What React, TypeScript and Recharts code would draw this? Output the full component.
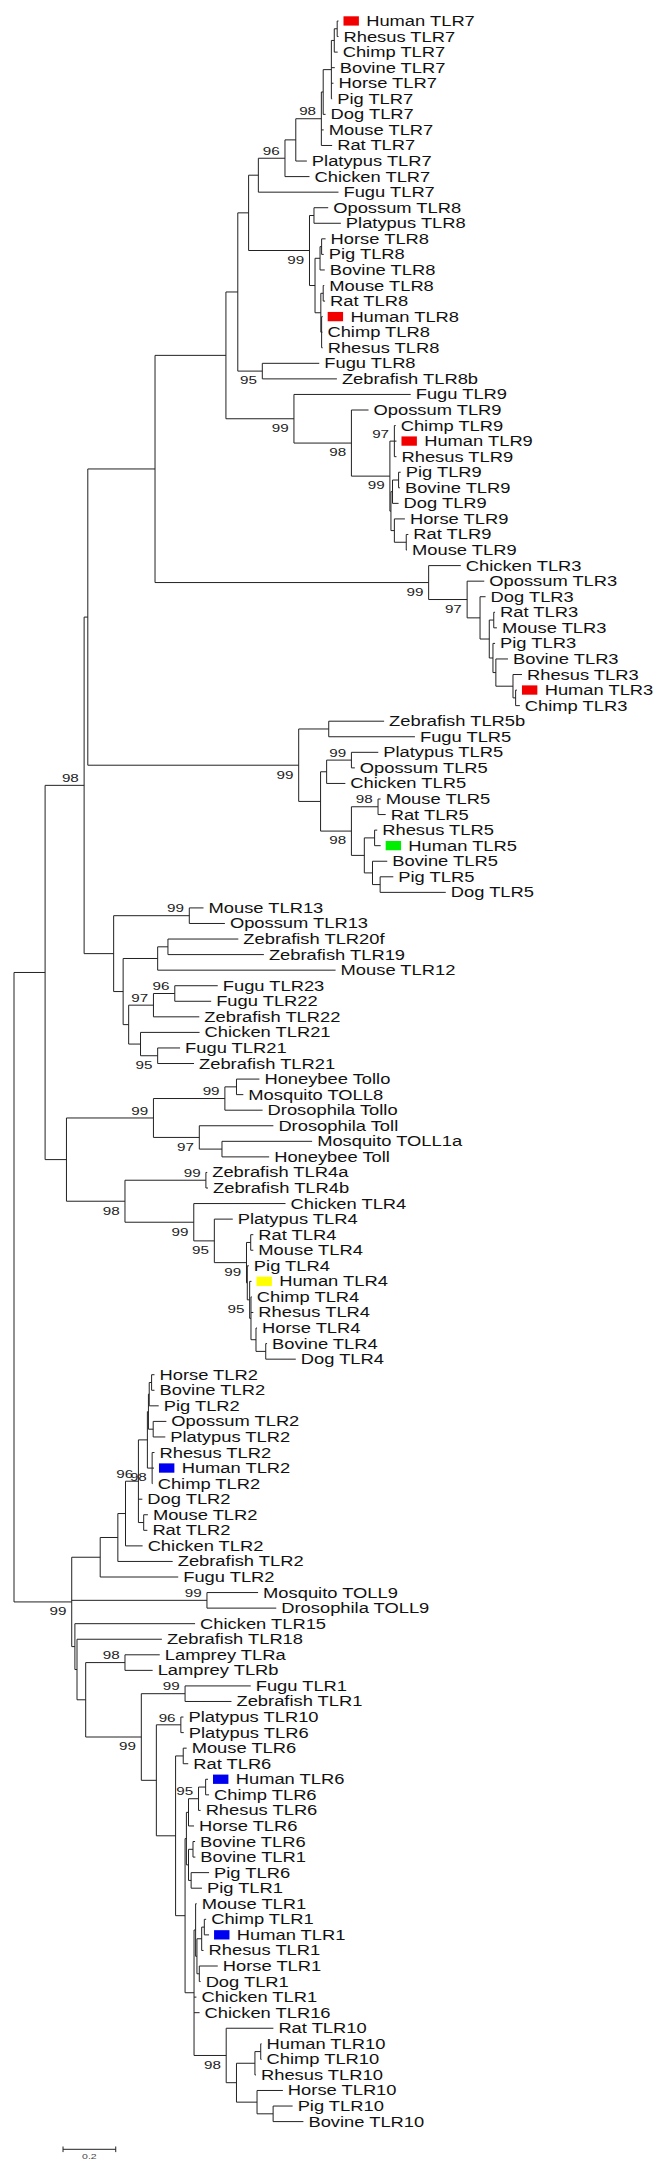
import React, { useMemo } from 'react'
import {
    ScatterChart,
    Scatter,
    XAxis,
    YAxis,
    ReferenceLine,
} from 'recharts'

// Tree nodes: d = distance from the root (substitutions/site), kids = children, boot = bootstrap
interface TreeNode {
    d: number
    name?: string
    mark?: 'red' | 'green' | 'yellow' | 'blue'
    kids?: TreeNode[]
    boot?: number
}

const L = (d: number, name: string, mark?: TreeNode['mark']): TreeNode => ({ d, name, mark })
const N = (d: number, kids: TreeNode[], boot?: number): TreeNode => ({ d, kids, boot })

// --- TLR7 / TLR8 / TLR9 ---
const tlr7Mammals = N(1.166, [
    N(1.173, [
        N(1.204, [
            N(1.215, [
                N(1.226, [L(1.231, 'Human TLR7', 'red'), L(1.231, 'Rhesus TLR7')]),
                L(1.228, 'Chimp TLR7'),
            ]),
            L(1.217, 'Bovine TLR7'),
            L(1.212, 'Horse TLR7'),
            L(1.207, 'Pig TLR7'),
        ]),
        L(1.182, 'Dog TLR7'),
    ]),
    L(1.175, 'Mouse TLR7'),
    L(1.207, 'Rat TLR7'),
], 98)

const tlr7 = N(0.927, [
    N(1.028, [
        N(1.069, [tlr7Mammals, L(1.111, 'Platypus TLR7')]),
        L(1.121, 'Chicken TLR7'),
    ], 96),
    L(1.231, 'Fugu TLR7'),
])

const tlr8 = N(1.121, [
    N(1.138, [L(1.192, 'Opossum TLR8'), L(1.240, 'Platypus TLR8')]),
    N(1.142, [
        N(1.161, [
            N(1.167, [L(1.182, 'Horse TLR8'), L(1.175, 'Pig TLR8')]),
            L(1.179, 'Bovine TLR8'),
        ]),
        N(1.164, [
            N(1.173, [L(1.177, 'Mouse TLR8'), L(1.180, 'Rat TLR8')]),
            N(1.167, [L(1.171, 'Human TLR8', 'red'), L(1.170, 'Chimp TLR8'), L(1.171, 'Rhesus TLR8')]),
        ]),
    ]),
], 99)

const fishTlr8 = N(0.942, [L(1.158, 'Fugu TLR8'), L(1.225, 'Zebrafish TLR8b')], 95)

const tlr9 = N(1.062, [
    L(1.505, 'Fugu TLR9'),
    N(1.280, [
        L(1.345, 'Opossum TLR9'),
        N(1.426, [
            N(1.443, [L(1.448, 'Chimp TLR9'), L(1.451, 'Human TLR9', 'red'), L(1.451, 'Rhesus TLR9')], 97),
            N(1.430, [
                N(1.436, [
                    N(1.459, [L(1.467, 'Pig TLR9'), L(1.464, 'Bovine TLR9')]),
                    L(1.459, 'Dog TLR9'),
                ]),
                N(1.443, [
                    L(1.483, 'Horse TLR9'),
                    N(1.488, [L(1.496, 'Rat TLR9'), L(1.491, 'Mouse TLR9')]),
                ]),
            ]),
        ], 99),
    ], 98),
], 99)

// --- TLR3 ---
const tlr3 = N(1.573, [
    L(1.695, 'Chicken TLR3'),
    N(1.719, [
        L(1.784, 'Opossum TLR3'),
        N(1.768, [
            L(1.789, 'Dog TLR3'),
            N(1.803, [
                N(1.820, [L(1.825, 'Rat TLR3'), L(1.832, 'Mouse TLR3')]),
                N(1.817, [
                    L(1.825, 'Pig TLR3'),
                    N(1.828, [
                        L(1.874, 'Bovine TLR3'),
                        N(1.893, [
                            L(1.927, 'Rhesus TLR3'),
                            N(1.903, [L(1.908, 'Human TLR3', 'red'), L(1.919, 'Chimp TLR3')]),
                        ]),
                    ]),
                ]),
            ]),
        ]),
    ], 97),
], 99)

// --- TLR5 ---
const tlr5 = N(1.080, [
    N(1.194, [L(1.404, 'Zebrafish TLR5b'), L(1.521, 'Fugu TLR5')]),
    N(1.163, [
        N(1.186, [
            N(1.280, [L(1.382, 'Platypus TLR5'), L(1.293, 'Opossum TLR5')], 99),
            L(1.257, 'Chicken TLR5'),
        ]),
        N(1.280, [
            N(1.381, [L(1.391, 'Mouse TLR5'), L(1.410, 'Rat TLR5')], 98),
            N(1.329, [
                N(1.368, [L(1.378, 'Rhesus TLR5'), L(1.391, 'Human TLR5', 'green')]),
                N(1.360, [
                    L(1.416, 'Bovine TLR5'),
                    N(1.389, [L(1.439, 'Pig TLR5'), L(1.638, 'Dog TLR5')]),
                ]),
            ]),
        ], 98),
    ]),
], 99)

// --- TLR11 family (TLR12/13/19-23) ---
const tlr13Group = N(0.378, [
    N(0.665, [L(0.719, 'Mouse TLR13'), L(0.800, 'Opossum TLR13')], 99),
    N(0.414, [
        N(0.545, [
            N(0.584, [L(0.851, 'Zebrafish TLR20f'), L(0.948, 'Zebrafish TLR19')]),
            L(1.220, 'Mouse TLR12'),
        ]),
        N(0.435, [
            N(0.529, [
                N(0.610, [L(0.773, 'Fugu TLR23'), L(0.748, 'Fugu TLR22')], 96),
                L(0.703, 'Zebrafish TLR22'),
            ], 97),
            N(0.480, [
                L(0.704, 'Chicken TLR21'),
                N(0.545, [L(0.630, 'Fugu TLR21'), L(0.683, 'Zebrafish TLR21')], 95),
            ]),
        ]),
    ]),
])

// --- insect Tolls and TLR4 ---
const insectToll = N(0.529, [
    N(0.800, [
        N(0.844, [L(0.931, 'Honeybee Tollo'), L(0.870, 'Mosquito TOLL8')]),
        L(0.943, 'Drosophila Tollo'),
    ], 99),
    N(0.703, [
        L(0.984, 'Drosophila Toll'),
        N(0.789, [L(1.131, 'Mosquito TOLL1a'), L(0.968, 'Honeybee Toll')]),
    ], 97),
], 99)

const tlr4 = N(0.421, [
    N(0.728, [L(0.733, 'Zebrafish TLR4a'), L(0.736, 'Zebrafish TLR4b')], 99),
    N(0.682, [
        L(1.030, 'Chicken TLR4'),
        N(0.760, [
            L(0.830, 'Platypus TLR4'),
            N(0.882, [
                N(0.898, [L(0.908, 'Rat TLR4'), L(0.908, 'Mouse TLR4')]),
                N(0.885, [
                    L(0.891, 'Pig TLR4'),
                    N(0.894, [
                        L(0.901, 'Human TLR4', 'yellow'),
                        N(0.899, [
                            L(0.902, 'Chimp TLR4'),
                            L(0.908, 'Rhesus TLR4'),
                            N(0.918, [
                                L(0.922, 'Horse TLR4'),
                                N(0.955, [L(0.960, 'Bovine TLR4'), L(1.069, 'Dog TLR4')]),
                            ]),
                        ]),
                    ], 95),
                ]),
            ], 99),
        ], 95),
    ], 99),
], 98)

// --- TLR2 ---
const tlr2 = N(0.327, [
    N(0.394, [
        N(0.423, [
            N(0.472, [
                N(0.506, [
                    N(0.510, [
                        N(0.513, [
                            N(0.522, [L(0.533, 'Horse TLR2'), L(0.533, 'Bovine TLR2')]),
                            L(0.549, 'Pig TLR2'),
                        ]),
                        N(0.528, [L(0.578, 'Opossum TLR2'), L(0.574, 'Platypus TLR2')]),
                    ]),
                    N(0.524, [L(0.533, 'Rhesus TLR2'), L(0.531, 'Human TLR2', 'blue'), L(0.526, 'Chimp TLR2')], 98),
                ]),
                L(0.487, 'Dog TLR2'),
                N(0.492, [L(0.508, 'Mouse TLR2'), L(0.506, 'Rat TLR2')]),
            ], 96),
            L(0.488, 'Chicken TLR2'),
        ]),
        L(0.602, 'Zebrafish TLR2'),
    ]),
    L(0.623, 'Fugu TLR2'),
])

const insectToll9 = N(0.732, [L(0.926, 'Mosquito TOLL9'), L(0.995, 'Drosophila TOLL9')], 99)

// --- TLR1 / TLR6 / TLR10 ---
const tlr10 = N(0.805, [
    L(0.984, 'Rat TLR10'),
    N(0.844, [
        N(0.914, [
            N(0.936, [L(0.939, 'Human TLR10'), L(0.939, 'Chimp TLR10')]),
            L(0.918, 'Rhesus TLR10'),
        ]),
        N(0.922, [
            L(1.020, 'Horse TLR10'),
            N(0.983, [L(1.057, 'Pig TLR10'), L(1.098, 'Bovine TLR10')]),
        ]),
    ]),
], 98)

const tlr6Mammals = N(0.654, [
    N(0.662, [
        N(0.700, [
            N(0.727, [L(0.736, 'Human TLR6', 'blue'), L(0.740, 'Chimp TLR6')]),
            L(0.708, 'Rhesus TLR6'),
        ], 95),
        L(0.683, 'Horse TLR6'),
    ]),
    N(0.662, [
        N(0.679, [L(0.687, 'Bovine TLR6'), L(0.688, 'Bovine TLR1')]),
        N(0.672, [L(0.740, 'Pig TLR6'), L(0.713, 'Pig TLR1')]),
    ]),
])

const tlr1Mammals = N(0.683, [
    N(0.689, [
        L(0.693, 'Mouse TLR1'),
        N(0.694, [
            N(0.712, [
                N(0.722, [L(0.729, 'Chimp TLR1'), L(0.740, 'Human TLR1', 'blue')]),
                L(0.719, 'Rhesus TLR1'),
            ]),
            N(0.703, [L(0.773, 'Horse TLR1'), L(0.708, 'Dog TLR1')]),
        ]),
    ]),
    L(0.692, 'Chicken TLR1'),
    L(0.704, 'Chicken TLR16'),
    tlr10,
])

const tlr1Group = N(0.231, [
    L(0.687, 'Chicken TLR15'),
    N(0.239, [
        L(0.561, 'Zebrafish TLR18'),
        N(0.272, [
            N(0.421, [L(0.553, 'Lamprey TLRa'), L(0.526, 'Lamprey TLRb')], 98),
            N(0.483, [
                N(0.649, [L(0.898, 'Fugu TLR1'), L(0.825, 'Zebrafish TLR1')], 99),
                N(0.540, [
                    N(0.633, [L(0.643, 'Platypus TLR10'), L(0.644, 'Platypus TLR6')], 96),
                    N(0.613, [
                        N(0.642, [L(0.655, 'Mouse TLR6'), L(0.661, 'Rat TLR6')]),
                        N(0.649, [tlr6Mammals, tlr1Mammals]),
                    ]),
                ]),
            ], 99),
        ]),
    ]),
])

// --- backbone ---
const tlr789 = N(0.804, [N(0.849, [N(0.890, [tlr7, tlr8]), fishTlr8]), tlr9])
const upperClade = N(0.118, [
    N(0.266, [
        N(0.280, [N(0.535, [tlr789, tlr3]), tlr5]),
        tlr13Group,
    ], 98),
    N(0.199, [insectToll, tlr4]),
])
const lowerClade = N(0.219, [tlr2, insectToll9, tlr1Group], 99)
const treeRoot = N(0, [upperClade, lowerClade])

// scale bar: 0.2 substitutions
const scaleBar = { x: 0.186, y: 136.78, length: 0.2, label: '0.2' }

const markColors: Record<string, string> = {
    red: '#f20000',
    green: '#00ee00',
    yellow: '#ffff00',
    blue: '#0000f0',
}

const WIDTH = 671
const HEIGHT = 2179
const LINE = '#222222'
const FONT = "'Liberation Sans', Arial, Helvetica, sans-serif"

function layoutTree(root: TreeNode) {
    const leaves: any[] = []
    const boots: any[] = []
    const segs: { x1: number, y1: number, x2: number, y2: number }[] = []
    let idx = 0
    const walk = (node: TreeNode): number => {
        if (!node.kids) {
            const y = idx++
            leaves.push({ x: node.d, y, name: node.name, mark: node.mark })
            return y
        }
        const ys = node.kids.map(walk)
        const first = ys[0]
        const last = ys[ys.length - 1]
        segs.push({ x1: node.d, y1: first, x2: node.d, y2: last })
        node.kids.forEach((k, i) => {
            segs.push({ x1: node.d, y1: ys[i], x2: k.d, y2: ys[i] })
            if (k.boot) boots.push({ x: k.d, y: ys[i], boot: k.boot, below: i === node.kids!.length - 1 })
        })
        return (first + last) / 2
    }
    walk(root)
    return { leaves, boots, segs }
}

const LeafLabel = (props: any) => {
    const { cx, cy, payload } = props
    const color = payload.mark ? markColors[payload.mark] : null
    const x0 = cx + 5
    return (
        <g>
            {color && <rect x={x0} y={cy - 4.7} width={15.4} height={9.3} fill={color} />}
            <text
                transform={`translate(${color ? x0 + 22.7 : x0},${cy + 5}) scale(1.31,1)`}
                fontSize={14}
                fontFamily={FONT}
                fill="#111"
            >
                {payload.name}
            </text>
        </g>
    )
}

const BootLabel = (props: any) => {
    const { cx, cy, payload } = props
    const y = payload.below ? cy + 13.3 : cy - 3.3
    return (
        <text
            transform={`translate(${cx - 5.3},${y}) scale(1.45,1)`}
            textAnchor="end"
            fontSize={10.5}
            fontFamily={FONT}
            fill="#222"
        >
            {payload.boot}
        </text>
    )
}

const ScaleLabel = (props: any) => {
    const { cx, cy, payload } = props
    return (
        <text
            transform={`translate(${cx},${cy + 10}) scale(1.5,1)`}
            textAnchor="middle"
            fontSize={7}
            fontFamily={FONT}
            fill="#444"
        >
            {payload.label}
        </text>
    )
}

export default function App() {
    const { leaves, boots, segs } = useMemo(() => layoutTree(treeRoot), [])

    // pixel frame: root sits at x=14px, 263.6px per unit; first leaf at y=21px, 15.56px per leaf
    const xDomain = [-14 / 263.6, (WIDTH - 14) / 263.6]
    const yDomain = [-21 / 15.56, (HEIGHT - 21) / 15.56]
    const tick = 0.18

    return (
        <div style={{ position: 'absolute', left: 0, top: 0, width: WIDTH, height: HEIGHT, background: '#fff' }}>
            <ScatterChart width={WIDTH} height={HEIGHT} margin={{ top: 0, right: 0, bottom: 0, left: 0 }}>
                <XAxis type="number" dataKey="x" domain={xDomain} scale="linear" allowDataOverflow hide />
                <YAxis type="number" dataKey="y" domain={yDomain} scale="linear" allowDataOverflow reversed hide />
                {segs.map((s, i) => (
                    <ReferenceLine
                        key={`seg-${i}`}
                        segment={[{ x: s.x1, y: s.y1 }, { x: s.x2, y: s.y2 }]}
                        stroke={LINE}
                        strokeWidth={1}
                        ifOverflow="visible"
                    />
                ))}
                <ReferenceLine
                    segment={[{ x: scaleBar.x, y: scaleBar.y }, { x: scaleBar.x + scaleBar.length, y: scaleBar.y }]}
                    stroke={LINE}
                    strokeWidth={1}
                    ifOverflow="visible"
                />
                <ReferenceLine
                    segment={[{ x: scaleBar.x, y: scaleBar.y - tick }, { x: scaleBar.x, y: scaleBar.y + tick }]}
                    stroke={LINE}
                    strokeWidth={1}
                    ifOverflow="visible"
                />
                <ReferenceLine
                    segment={[{ x: scaleBar.x + scaleBar.length, y: scaleBar.y - tick }, { x: scaleBar.x + scaleBar.length, y: scaleBar.y + tick }]}
                    stroke={LINE}
                    strokeWidth={1}
                    ifOverflow="visible"
                />
                <Scatter data={leaves} shape={<LeafLabel />} isAnimationActive={false} />
                <Scatter data={boots} shape={<BootLabel />} isAnimationActive={false} />
                <Scatter
                    data={[{ x: scaleBar.x + scaleBar.length / 2, y: scaleBar.y, label: scaleBar.label }]}
                    shape={<ScaleLabel />}
                    isAnimationActive={false}
                />
            </ScatterChart>
        </div>
    )
}
